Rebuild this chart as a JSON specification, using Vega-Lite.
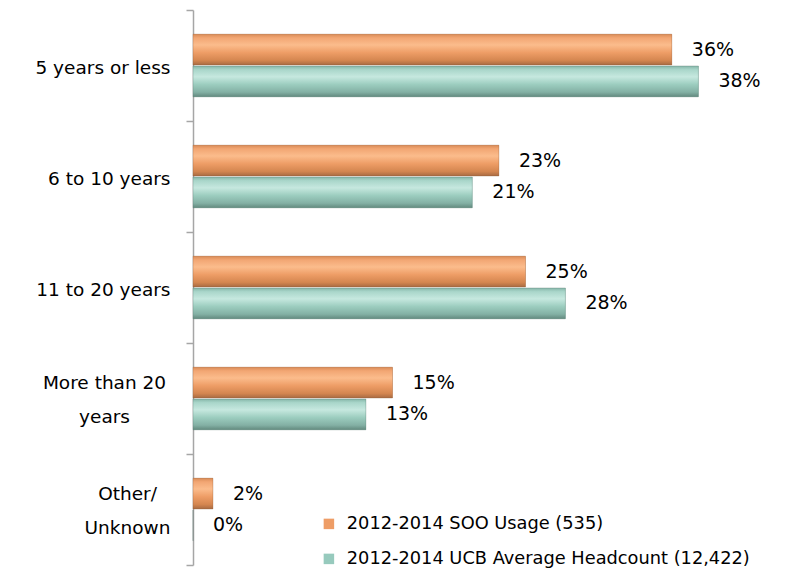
{
  "$schema": "https://vega.github.io/schema/vega-lite/v6.json",
  "width": 590,
  "height": 555,
  "autosize": {"type": "none"},
  "padding": {"left": 193, "top": 10, "right": 13, "bottom": 16},
  "background": "white",
  "config": {"view": {"stroke": null}, "font": "DejaVu Sans"},
  "data": {
    "values": [
      {"category": "5 years or less", "series": "2012-2014 SOO Usage (535)", "value": 0.36},
      {"category": "5 years or less", "series": "2012-2014 UCB Average Headcount (12,422)", "value": 0.38},
      {"category": "6 to 10 years", "series": "2012-2014 SOO Usage (535)", "value": 0.23},
      {"category": "6 to 10 years", "series": "2012-2014 UCB Average Headcount (12,422)", "value": 0.21},
      {"category": "11 to 20 years", "series": "2012-2014 SOO Usage (535)", "value": 0.25},
      {"category": "11 to 20 years", "series": "2012-2014 UCB Average Headcount (12,422)", "value": 0.28},
      {"category": "More than 20 years", "series": "2012-2014 SOO Usage (535)", "value": 0.15},
      {"category": "More than 20 years", "series": "2012-2014 UCB Average Headcount (12,422)", "value": 0.13},
      {"category": "Other/Unknown", "series": "2012-2014 SOO Usage (535)", "value": 0.015},
      {"category": "Other/Unknown", "series": "2012-2014 UCB Average Headcount (12,422)", "value": 0.0}
    ]
  },
  "encoding": {
    "y": {
      "field": "category",
      "type": "nominal",
      "sort": null,
      "scale": {"paddingInner": 0, "paddingOuter": 0},
      "axis": {
        "title": null,
        "domainColor": "#a6a6a6",
        "domainWidth": 1.5,
        "tickColor": "#a6a6a6",
        "tickWidth": 1.5,
        "tickSize": 7,
        "tickBand": "extent",
        "labelFontSize": 18.5,
        "labelColor": "#000000",
        "labelLineHeight": 34,
        "labelLimit": 200,
        "labelAlign": {"condition": {"test": "datum.value == 'More than 20 years' || datum.value == 'Other/Unknown'", "value": "center"}, "value": "right"},
        "labelPadding": {"condition": [
          {"test": "datum.value == 'More than 20 years'", "value": 82},
          {"test": "datum.value == 'Other/Unknown'", "value": 59}
        ], "value": 16},
        "labelOffset": {"condition": {"test": "datum.value == 'More than 20 years' || datum.value == 'Other/Unknown'", "value": -16}, "value": 2},
        "labelExpr": "datum.value == 'More than 20 years' ? ['More than 20', 'years'] : datum.value == 'Other/Unknown' ? ['Other/', 'Unknown'] : datum.value"
      }
    },
    "yOffset": {
      "field": "series",
      "type": "nominal",
      "scale": {"paddingInner": 0.03, "paddingOuter": 0.76}
    },
    "x": {
      "field": "value",
      "type": "quantitative",
      "scale": {"domain": [0, 0.4436], "nice": false, "zero": true},
      "axis": null
    }
  },
  "layer": [
    {
      "mark": {"type": "bar"},
      "encoding": {
        "color": {
          "field": "series",
          "type": "nominal",
          "scale": {"range": ["#EE9D66", "#97CABD"]},
          "legend": {
            "title": null,
            "orient": "none",
            "legendX": 127,
            "legendY": 505,
            "symbolType": "square",
            "symbolSize": 110,
            "symbolStrokeWidth": 0,
            "labelFontSize": 17.8,
            "labelColor": "#000000",
            "labelLimit": 500,
            "rowPadding": 16,
            "labelOffset": 9
          }
        }
      }
    },
    {
      "transform": [{"filter": "datum.series == '2012-2014 SOO Usage (535)'"}],
      "mark": {"type": "bar", "stroke": "#8a5a3a", "strokeWidth": 0.6, "strokeOpacity": 0.5,
        "fill": {"gradient": "linear", "x1": 0, "y1": 0, "x2": 0, "y2": 1, "stops": [
          {"offset": 0, "color": "#D98B57"},
          {"offset": 0.12, "color": "#F2A673"},
          {"offset": 0.35, "color": "#FBBC8C"},
          {"offset": 0.6, "color": "#EE9D66"},
          {"offset": 0.85, "color": "#D48650"},
          {"offset": 1, "color": "#A86A42"}
        ]}},
      "encoding": {}
    },
    {
      "transform": [{"filter": "datum.series == '2012-2014 UCB Average Headcount (12,422)'"}],
      "mark": {"type": "bar", "stroke": "#4f6f66", "strokeWidth": 0.6, "strokeOpacity": 0.5,
        "fill": {"gradient": "linear", "x1": 0, "y1": 0, "x2": 0, "y2": 1, "stops": [
          {"offset": 0, "color": "#86B6A9"},
          {"offset": 0.12, "color": "#A9D6CA"},
          {"offset": 0.35, "color": "#C6E8DF"},
          {"offset": 0.6, "color": "#9CCDBF"},
          {"offset": 0.85, "color": "#83B0A4"},
          {"offset": 1, "color": "#62897E"}
        ]}},
      "encoding": {}
    },
    {
      "mark": {"type": "text", "align": "left", "baseline": "middle", "dx": 20, "fontSize": 19, "color": "#000000"},
      "encoding": {
        "text": {"field": "value", "type": "quantitative", "format": ".0%"}
      }
    }
  ]
}
